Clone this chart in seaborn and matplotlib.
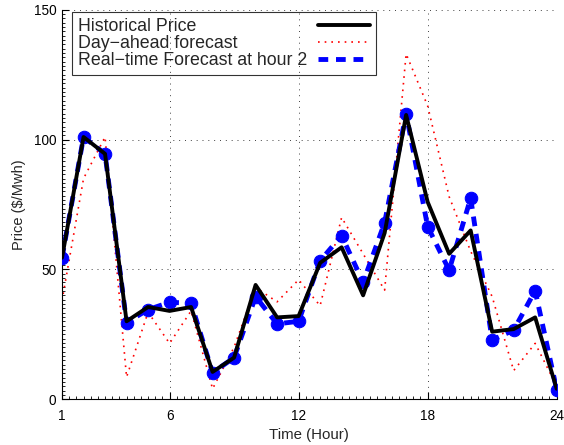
import numpy as np
import pandas as pd
import seaborn as sns
import matplotlib
matplotlib.use("Agg")
import matplotlib.pyplot as plt
from matplotlib.lines import Line2D
from matplotlib.ticker import MultipleLocator

# Hourly electricity prices ($/MWh)
hours = list(range(1, 25))
historical = [54.5, 101, 94.5, 30, 35.5, 34, 35.5, 10.5, 16, 44, 31.5, 32,
              52.5, 58.5, 40, 64, 109.5, 76, 56, 65, 26, 27, 31.5, 4]
day_ahead = [38, 85, 101, 8.5, 33.5, 21.5, 34, 4, 20, 43, 37.5, 46,
             36, 70, 56, 42, 133, 113, 78, 57, 39.5, 11, 21.5, 5]
real_time = [54.5, 101, 94.5, 29.5, 34.5, 37.3, 37, 10.2, 16, 39.5, 29, 30,
             53.3, 63, 45, 68, 110, 66.5, 49.7, 77.4, 22.8, 26.6, 41.8, 3.7]

x_ticks = [1, 6, 12, 18, 24]
y_ticks = [0, 50, 100, 150]
labels = ["Historical Price", "Day\u2212ahead forecast", "Real\u2212time Forecast at hour 2"]

df = pd.DataFrame({"hour": hours, "historical": historical,
                   "day_ahead": day_ahead, "real_time": real_time})

sns.set_style("ticks")
plt.rcParams["font.family"] = ["Liberation Sans", "DejaVu Sans"]

fig = plt.figure(figsize=(5.64, 4.45), dpi=100)
ax = fig.add_axes([0.110, 0.103, 0.877, 0.875])

red_ls = (0, (1, 3))
blue_ls = (0, (2, 1.6))

sns.lineplot(data=df, x="hour", y="day_ahead", ax=ax, color="red",
             linewidth=1.2, linestyle=red_ls, zorder=2)
sns.lineplot(data=df, x="hour", y="real_time", ax=ax, color="blue",
             linewidth=3.5, linestyle=blue_ls, marker="o",
             markersize=9, markeredgecolor="blue", zorder=3)
sns.lineplot(data=df, x="hour", y="historical", ax=ax, color="black",
             linewidth=2.8, zorder=4)

ax.set_xlim(1, 24)
ax.set_ylim(0, 150)
ax.set_xticks(x_ticks)
ax.set_yticks(y_ticks)
ax.xaxis.set_minor_locator(MultipleLocator(1 / 3))
ax.yaxis.set_minor_locator(MultipleLocator(5 / 3))
ax.tick_params(which="both", direction="in", colors="black", labelsize=9.8)
ax.tick_params(axis="x", which="major", pad=7)
ax.tick_params(axis="y", which="major", pad=4)
ax.tick_params(which="major", length=5, width=0.8)
ax.tick_params(which="minor", length=2.5, width=0.6)
ax.grid(True, which="major", linestyle=(0, (1, 5)), color="black",
        linewidth=0.7, alpha=0.75)
sns.despine(ax=ax, top=True, right=True)
for s in ("left", "bottom"):
    ax.spines[s].set_color("black")
    ax.spines[s].set_linewidth(0.8)

ax.set_xlabel("Time (Hour)", fontsize=10.8, labelpad=4)
ax.set_ylabel("Price ($/Mwh)", fontsize=10.5, labelpad=6)

handles = [
    Line2D([], [], color="black", linewidth=2.8),
    Line2D([], [], color="red", linewidth=1.2, linestyle=red_ls),
    Line2D([], [], color="blue", linewidth=3.5, linestyle=blue_ls),
]
leg = ax.legend(handles, labels, loc="upper left", bbox_to_anchor=(0.02, 0.995),
                fontsize=12.8, markerfirst=False, handlelength=2.9,
                frameon=True, fancybox=False, edgecolor="black",
                borderpad=0.35, labelspacing=0.0, handletextpad=0.6,
                borderaxespad=0.0)
leg.get_frame().set_linewidth(0.8)
leg.get_frame().set_facecolor("none")

# left-align the labels while keeping the line samples in a right-hand column
fig.canvas.draw()
renderer = fig.canvas.get_renderer()
widths = [t.get_window_extent(renderer).width for t in leg.get_texts()]
column = leg._legend_handle_box.get_children()[0]
column.align = "left"
for row, w in zip(column.get_children(), widths):
    row.sep += (max(widths) - w) * 72.0 / fig.dpi

fig.savefig("out.png", dpi=100, facecolor="white")
